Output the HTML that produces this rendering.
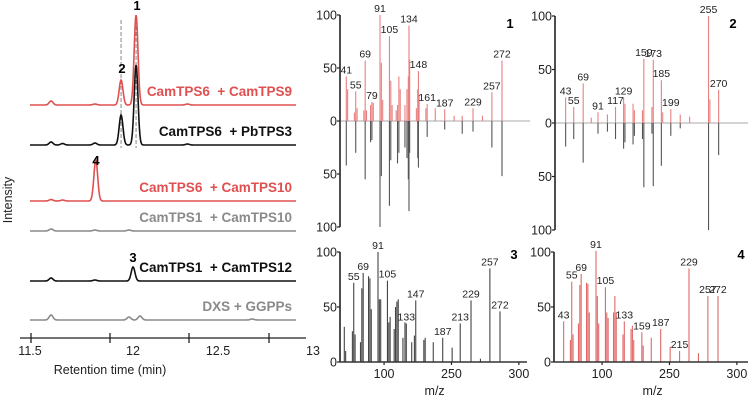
<!DOCTYPE html>
<html><head><meta charset="utf-8"><style>
html,body{margin:0;padding:0;background:#fff;}
svg{display:block;font-family:"Liberation Sans",sans-serif;}
</style></head><body>
<svg id="fig" width="750" height="401" viewBox="0 0 750 401"></svg>
<script>
// ---------- Chromatogram data ----------
const traceNames = ["CamTPS6  + CamTPS9","CamTPS6  + PbTPS3","CamTPS6  + CamTPS10","CamTPS1  + CamTPS10","CamTPS1  + CamTPS12","DXS + GGPPs"];
const traceColors = ["#e05050","#111111","#e05050","#8a8a8a","#111111","#8a8a8a"];
const traceOffsets = [105,145,201,231,281,320];
const peakRT = [
 [11.627,11.905,12.07,12.165,12.49],
 [11.627,11.7,11.905,12.07,12.165,12.49],
 [11.627,11.7,11.91],
 [11.627,11.905,12.12],
 [11.627,11.905,12.146],
 [11.627,12.12,12.19,12.9]
];
const peakH = [
 [4,1,25,90,1],
 [3,1.5,2,30,80,1],
 [1.5,1,41],
 [2,1,1],
 [3,1,14],
 [5,3,4,1]
];
const rtTicks = [11.5,12,12.5,13];
const rtTickLabels = ["11.5","12","12.5","13"];

// ---------- Mass spectra data ----------
const p1TopMz=[41,43,53,55,57,67,69,71,77,79,81,91,93,95,105,107,109,115,117,119,121,128,131,133,134,135,145,147,148,149,159,161,173,187,201,213,229,243,257,272];
const p1TopI=[42,30,8,28,12,10,57,10,15,18,17,100,55,20,80,38,15,10,15,42,30,15,30,42,90,58,12,30,47,25,12,16,12,11,5,5,12,5,27,57];
const p1BotMz=[41,55,69,77,79,91,93,105,107,117,119,128,131,133,134,135,147,148,161,187,213,229,257,272];
const p1BotI=[42,30,55,20,18,100,52,80,37,40,30,25,35,55,85,30,35,44,15,8,12,10,25,52];
const p1Labels=[41,55,69,79,91,105,134,148,161,187,229,257,272];

const p2TopMz=[43,55,69,81,91,105,117,129,131,143,145,157,159,171,173,185,187,199,213,227,255,257,270];
const p2TopI=[24,15,37,5,10,8,15,24,18,18,12,12,60,15,59,40,10,13,8,6,100,22,31];
const p2BotMz=[43,55,69,91,105,117,129,131,143,145,157,159,171,173,185,199,213,255,270];
const p2BotI=[22,15,37,10,8,15,24,18,20,12,15,60,10,59,40,12,5,100,30];
const p2Labels=[43,55,69,91,117,129,159,173,185,199,255,270];

const p3Mz=[41,43,53,55,57,65,67,69,77,79,81,91,93,95,105,107,109,115,117,119,121,128,131,133,141,145,147,159,161,173,187,201,213,229,243,257,272];
const p3I=[32,10,28,72,25,18,67,81,78,76,48,100,57,57,74,36,41,30,50,55,57,22,36,35,18,24,56,20,22,18,22,13,35,56,3,85,46];
const p3Labels=[55,69,91,105,133,147,187,213,229,257,272];

const p4Mz=[43,53,55,57,65,67,69,77,79,81,91,93,95,105,107,109,117,119,121,131,133,143,145,147,159,161,173,187,201,215,229,243,257,272];
const p4I=[37,20,73,25,35,70,80,72,71,45,101,60,35,68,45,40,45,60,45,25,37,30,33,20,27,15,22,30,14,10,85,8,60,60];
const p4Labels=[43,55,69,91,105,133,159,187,215,229,257,272];

const ms1Ticks=[100,200,300];
const msTickLabels=["100","250","300"];

const NS="http://www.w3.org/2000/svg";
const svg=document.getElementById('fig');
function mk(tag,attrs,parent){const e=document.createElementNS(NS,tag);for(const k in attrs)e.setAttribute(k,attrs[k]);(parent||svg).appendChild(e);return e;}
function txt(s,x,y,attrs,parent){const t=mk('text',Object.assign({x:x,y:y},attrs),parent);t.textContent=s;return t;}

// ---------- Chromatogram ----------
const rtX = t => 31 + (t-11.5)*158;
const chrom = mk('g',{});


[12.07,12.165].forEach(function(rt){
  const l=mk('line',{x1:rtX(rt),x2:rtX(rt),y1:20,y2:148,stroke:'#888','stroke-width':1,'stroke-dasharray':'4,2'},chrom);
  
  
});
traceNames.forEach(function(name,i){
  let d='';
  for(let px=30;px<=296;px+=0.5){
    const t=(px-31)/158+11.5;
    let v=0;
    for(let k=0;k<peakRT[i].length;k++){const s=0.012;v+=peakH[i][k]*Math.exp(-Math.pow((t-peakRT[i][k])/s,2)/2);}
    d+=(d?'L':'M')+px.toFixed(1)+','+(traceOffsets[i]-v).toFixed(2);
  }
  const p=mk('path',{d:d,fill:'none',stroke:traceColors[i],'stroke-width':1.6},chrom);
  
  
  const lb=txt(name,292,traceOffsets[i]-9,{'text-anchor':'end','font-size':13.5,'font-weight':'bold',fill:traceColors[i],'xml:space':'preserve',style:'white-space:pre'},chrom);
  
  
});
[["1",137,10],["2",122,73],["4",96,165],["3",133,262]].forEach(function(a){
  const t=txt(a[0],a[1],a[2],{'text-anchor':'middle','font-size':13,'font-weight':'bold'},chrom);
  
  
});
const ax=mk('line',{x1:20,x2:306,y1:338,y2:338,stroke:'#222','stroke-width':1.3},chrom);


const tickPx=[31,110,189,269];
const labPx=[30,133,218,313];
rtTicks.forEach(function(v,i){
  const tk=mk('line',{x1:tickPx[i],x2:tickPx[i],y1:333,y2:343,stroke:'#222','stroke-width':1.3},chrom);
  
  
  const tl=txt(rtTickLabels[i],labPx[i],355,{'text-anchor':'middle','font-size':12.5,fill:'#222'},chrom);
  
  
});
const xt=txt('Retention time (min)',110,374,{'text-anchor':'middle','font-size':12.5,fill:'#222'},chrom);


const yt=txt('Intensity',12,200,{'text-anchor':'middle','font-size':12.5,fill:'#222',transform:'rotate(-90 12 200)'},chrom);



// ---------- Mass spectra ----------
function spectrum(opt){
  const g=mk('g',{});
  
  
  const X=mz=>opt.x91+(mz-91)*0.674;
  const Y=v=>opt.y0-v*opt.k;
  if(opt.mirror){
    const bl=mk('line',{x1:opt.axX,x2:opt.xEnd,y1:opt.y0,y2:opt.y0,stroke:'#aaa','stroke-width':1},g);
    
    
  }
  opt.topMz.forEach(function(mz,i){
    const b=mk('line',{x1:X(mz),x2:X(mz),y1:opt.y0,y2:Y(opt.topI[i]),stroke:opt.topColor,'stroke-width':1.1},g);
    
    
  });
  if(opt.botMz){
    opt.botMz.forEach(function(mz,i){
      const b=mk('line',{x1:X(mz),x2:X(mz),y1:opt.y0,y2:opt.y0+opt.botI[i]*opt.k,stroke:'#555','stroke-width':1.1},g);
      
      
    });
  }
  opt.labels.forEach(function(mz){
    const i=opt.topMz.indexOf(mz);
    const t=txt(String(mz),X(mz),Y(opt.topI[i])-3,{'text-anchor':'middle','font-size':10.5,fill:'#222'},g);
    
    
  });
  const ya=mk('line',{x1:opt.axX,x2:opt.axX,y1:Y(100),y2:opt.mirror?opt.y0+100*opt.k:opt.y0,stroke:'#222','stroke-width':1.6},g);
  
  
  const yv=opt.mirror?[100,50,0,-50,-100]:[100,50,0];
  yv.forEach(function(v){
    const ty=opt.y0-v*opt.k;
    const tk=mk('line',{x1:opt.axX-3,x2:opt.axX,y1:ty,y2:ty,stroke:'#222','stroke-width':1.2},g);
    
    
    const tl=txt(String(Math.abs(v)),opt.axX-3,ty+4.5,{'text-anchor':'end','font-size':12.5,fill:'#222'},g);
    
    
  });
  if(!opt.mirror){
    const xa=mk('line',{x1:opt.axX,x2:opt.xEnd,y1:opt.y0,y2:opt.y0,stroke:'#333','stroke-width':1.6},g);
    
    
    ms1Ticks.forEach(function(v,i){
      const tk=mk('line',{x1:X(v),x2:X(v),y1:opt.y0,y2:opt.y0+3,stroke:'#222','stroke-width':1.2},g);
      
      
      const tl=txt(msTickLabels[i],X(v),opt.y0+16,{'text-anchor':'middle','font-size':12.5,fill:'#222'},g);
      
      
    });
    const mt=txt('m/z',X(175),opt.y0+33,{'text-anchor':'middle','font-size':12.5,fill:'#222'},g);
    
    
  }
  const n=txt(opt.num,opt.numX,opt.numY,{'text-anchor':'middle','font-size':13,'font-weight':'bold'},g);
  
  
}
spectrum({name:'spectrum-1',x91:380,y0:121,k:1.06,axX:340,xEnd:530,mirror:true,topMz:p1TopMz,topI:p1TopI,botMz:p1BotMz,botI:p1BotI,labels:p1Labels,topColor:'#e88080',num:'1',numX:510,numY:28});
spectrum({name:'spectrum-2',x91:598,y0:123,k:1.07,axX:555,xEnd:748,mirror:true,topMz:p2TopMz,topI:p2TopI,botMz:p2BotMz,botI:p2BotI,labels:p2Labels,topColor:'#e88080',num:'2',numX:733,numY:28});
spectrum({name:'spectrum-3',x91:378,y0:362,k:1.1,axX:340,xEnd:527,mirror:false,topMz:p3Mz,topI:p3I,labels:p3Labels,topColor:'#444',num:'3',numX:514,numY:259});
spectrum({name:'spectrum-4',x91:596,y0:362,k:1.1,axX:554,xEnd:748,mirror:false,topMz:p4Mz,topI:p4I,labels:p4Labels,topColor:'#e06868',num:'4',numX:741,numY:259});
</script>
</body></html>
